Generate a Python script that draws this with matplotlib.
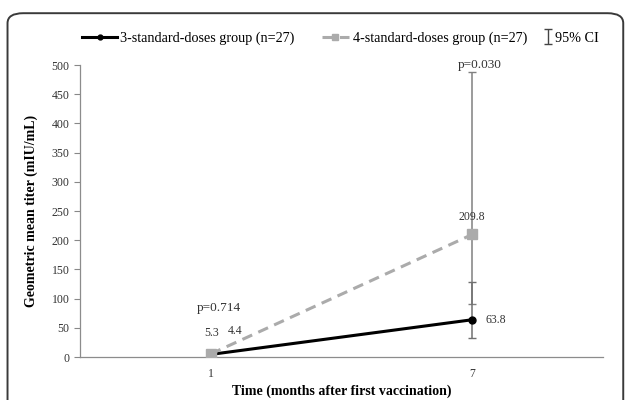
import matplotlib
matplotlib.use('Agg')
import matplotlib.pyplot as plt
from matplotlib.patches import FancyBboxPatch
import numpy as np

plt.rcParams['font.family'] = ['Liberation Serif', 'DejaVu Serif']

months = ['1', '7']
gmt_3dose = [4.4, 63.8]
ci_3dose_low = [3.6, 32.5]
ci_3dose_high = [5.4, 128.0]
gmt_4dose = [5.3, 209.8]
ci_4dose_low = [4.3, 91.0]
ci_4dose_high = [6.5, 488.0]
p_values = ['p=0.714', 'p=0.030']
p_heights = [84, 500]

label_3 = '3-standard-doses group (n=27)'
label_4 = '4-standard-doses group (n=27)'

fig = plt.figure(figsize=(6.27, 4.0), dpi=100)
ax = fig.add_axes([0.1276, 0.1075, 0.8341, 0.73])

# rounded frame, runs off the bottom of the picture
frame = FancyBboxPatch((0.012, -0.1), 0.982, 1.067, boxstyle='round,pad=0,rounding_size=0.025',
                       transform=fig.transFigure, facecolor='none', edgecolor='#3a3a3a',
                       linewidth=1.4, clip_on=False)
fig.patches.append(frame)

x = np.arange(len(months))
g3 = np.array(gmt_3dose)
g4 = np.array(gmt_4dose)
err3 = [g3 - np.array(ci_3dose_low), np.array(ci_3dose_high) - g3]
err4 = [g4 - np.array(ci_4dose_low), np.array(ci_4dose_high) - g4]

ax.errorbar(x, g4, yerr=err4, fmt='none', ecolor='#808080', elinewidth=1.1, capsize=3, capthick=1.0, zorder=2)
ax.errorbar(x, g3, yerr=err3, fmt='none', ecolor='#707070', elinewidth=1.1, capsize=3, capthick=1.0, zorder=2)
l3, = ax.plot(x, g3, color='black', lw=2.2, marker='o', markersize=5, label=label_3, zorder=4)
l4, = ax.plot(x, g4, color='#ababab', lw=2.2, ls=(0, (3.5, 2.2)), marker='s', markersize=7,
              label=label_4, zorder=5)
ci = ax.errorbar([np.nan], [np.nan], yerr=[1], fmt='none', ecolor='#444444', elinewidth=1.0,
                 capsize=3, label='95% CI')

# value labels
ax.text(x[0] + 0.005, 41, '%.1f' % gmt_4dose[0], ha='center', va='center', fontsize=8.5, color='#333333')
ax.text(x[0] + 0.095, 44, '%.1f' % gmt_3dose[0], ha='center', va='center', fontsize=8.5, color='#333333')
ax.text(x[1], 240, '%.1f' % gmt_4dose[1], ha='center', va='center', fontsize=8.5, color='#333333')
ax.text(x[1] + 0.09, 63, '%.1f' % gmt_3dose[1], ha='center', va='center', fontsize=8.5, color='#333333')
for xi, p, h in zip(x, p_values, p_heights):
    ax.text(xi + 0.03, h, p, ha='center', va='center', fontsize=9.5, color='#333333')

ax.set_xlim(-0.5, 1.5)
ax.set_ylim(0, 500)
ax.set_yticks(np.arange(0, 501, 50))
ax.set_xticks(x)
ax.set_xticklabels(months)
ax.tick_params(axis='y', length=4, color='#888888', labelsize=8.5, labelcolor='#333333', width=0.8)
ax.tick_params(axis='x', length=0, labelsize=8.5, labelcolor='#333333', pad=8)
for s in ['top', 'right']:
    ax.spines[s].set_visible(False)
for s in ['left', 'bottom']:
    ax.spines[s].set_color('#8c8c8c')
    ax.spines[s].set_linewidth(0.9)

ax.set_xlabel('Time (months after first vaccination)', fontsize=10, fontweight='bold', labelpad=3)
ax.set_ylabel('Geometric mean titer (mIU/mL)', fontsize=10, fontweight='bold', labelpad=10)

# three separate legend pieces so each handle gets its own length
ly = 1 - 38 / 400
common = dict(loc='center left', frameon=False, fontsize=10.2, borderpad=0, borderaxespad=0, markerscale=0.7)
fig.legend(handles=[l3], bbox_to_anchor=(82 / 627, ly), handlelength=2.5, handletextpad=0.15, **common)
fig.legend(handles=[l4], bbox_to_anchor=(322 / 627, ly), handlelength=1.9, handletextpad=0.3, **common)
fig.legend(handles=[ci], bbox_to_anchor=(544 / 627, ly), handlelength=0.6, handletextpad=0.2, **common)

fig.savefig('out.png', dpi=100)
